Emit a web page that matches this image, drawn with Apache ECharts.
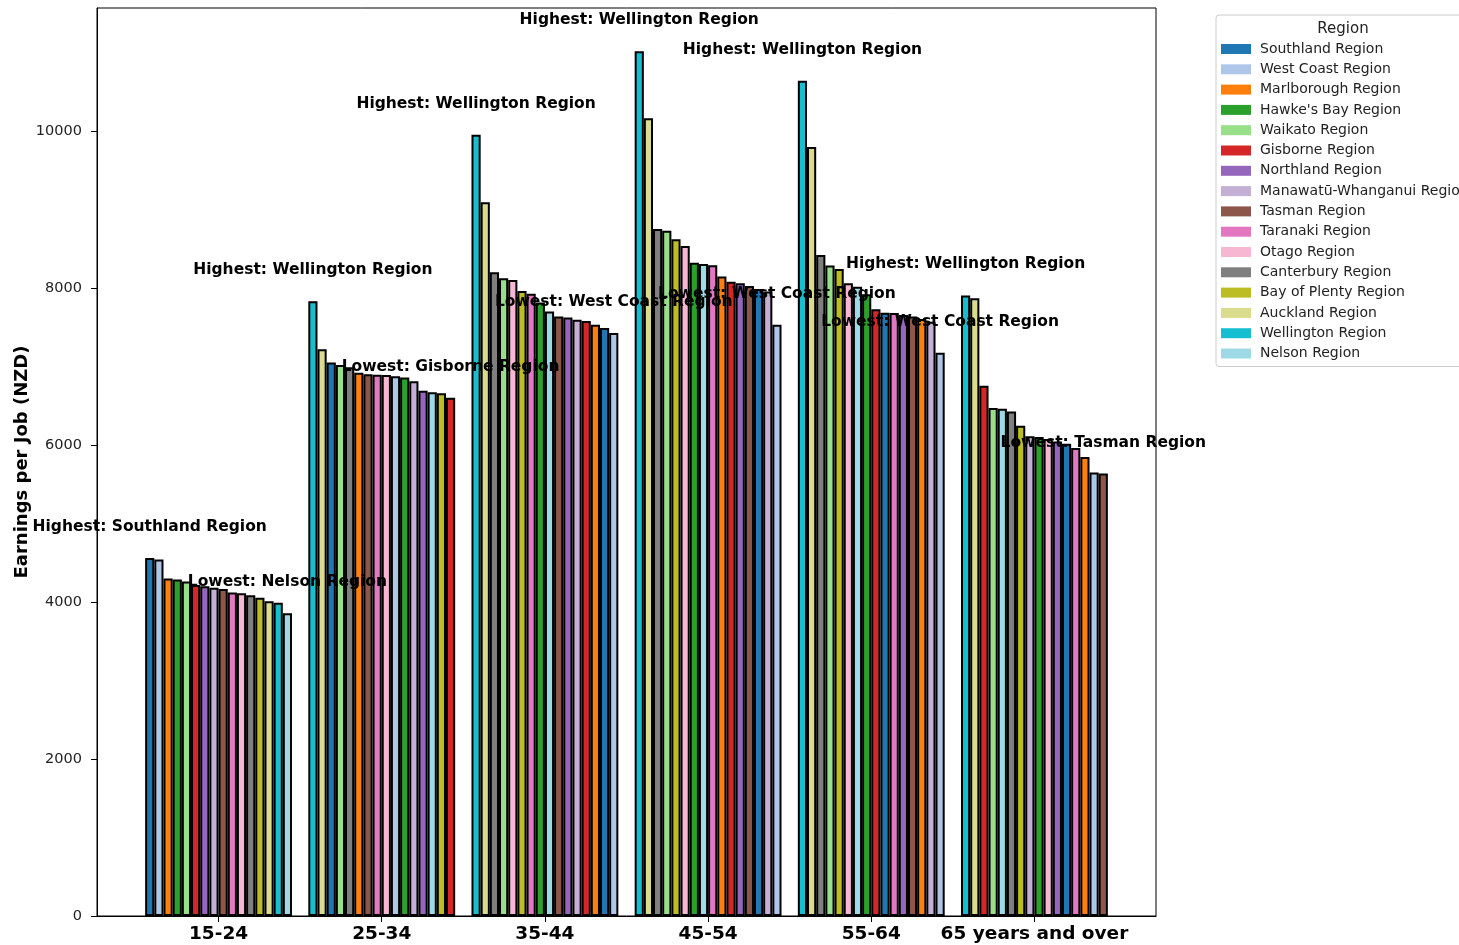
<!DOCTYPE html>
<html>
<head>
<meta charset="utf-8">
<title>Earnings per Job by Region and Age Group</title>
<script src="https://cdn.jsdelivr.net/npm/echarts@6/dist/echarts.min.js"></script>
<style>
    html, body { margin: 0; padding: 0; background: #fff; }
    #chart { width: 1459px; height: 945px; }
</style>
</head>
<body>
<div id="chart"></div>
<script>
    // age groups on the x axis
    const ageGroups = ['15-24', '25-34', '35-44', '45-54', '55-64', '65 years and over'];

    // regions, in legend order
    const regions = ['Southland Region', 'West Coast Region', 'Marlborough Region', "Hawke's Bay Region",
        'Waikato Region', 'Gisborne Region', 'Northland Region', 'Manawatū-Whanganui Region',
        'Tasman Region', 'Taranaki Region', 'Otago Region', 'Canterbury Region',
        'Bay of Plenty Region', 'Auckland Region', 'Wellington Region', 'Nelson Region'];
    const regionColors = ['#1f77b4', '#aec7e8', '#ff7f0e', '#2ca02c', '#98df8a', '#d62728', '#9467bd', '#c5b0d5',
        '#8c564b', '#e377c2', '#f7b6d2', '#7f7f7f', '#bcbd22', '#dbdb8d', '#17becf', '#9edae5'];

    // earnings per job (NZD), one array per age group, values in region order
    const earnings15to24 = [4560, 4540, 4300, 4285, 4260, 4215, 4200, 4180, 4165, 4120, 4110, 4085, 4055, 4010, 3990, 3855];
    const earnings25to34 = [7050, 6875, 6920, 6860, 7020, 6600, 6690, 6810, 6900, 6895, 6890, 6990, 6660, 7220, 7830, 6670];
    const earnings35to44 = [7490, 7425, 7530, 7815, 8125, 7580, 7625, 7595, 7635, 7925, 8100, 8200, 7960, 9090, 9950, 7700];
    const earnings45to54 = [7985, 7530, 8145, 8320, 8730, 8080, 8060, 7955, 8025, 8290, 8535, 8750, 8620, 10160, 11015, 8305];
    const earnings55to64 = [7685, 7175, 7605, 7920, 8285, 7730, 7655, 7570, 7635, 7680, 8060, 8420, 8240, 9795, 10640, 8015];
    const earnings65plus = [6015, 5650, 5845, 6100, 6470, 6755, 6045, 6110, 5635, 5960, 6075, 6425, 6245, 7870, 7905, 6460];
    const groupValues = [earnings15to24, earnings25to34, earnings35to44, earnings45to54, earnings55to64, earnings65plus];

    // y axis tick labels
    const yTicks = [0, 2000, 4000, 6000, 8000, 10000];

    const groupWidth = 0.9;
    const barW = groupWidth / regions.length;

    // bars are sorted high -> low inside each group
    const series = regions.map((name, r) => ({
        name: name,
        type: 'bar',
        barWidth: '100%',
        barGap: '-100%',
        itemStyle: { color: regionColors[r], borderColor: '#000', borderWidth: 2 },
        data: []
    }));
    groupValues.forEach((vals, g) => {
        const order = vals.map((v, i) => i).sort((a, b) => vals[b] - vals[a]);
        order.forEach((r, rank) => {
            const item = { value: [g - groupWidth / 2 + barW * (rank + 0.5), vals[r]] };
            // label the highest and the lowest bar of the group
            if (rank === 0 || rank === order.length - 1) {
                item.label = {
                    show: true,
                    position: 'top',
                    distance: 23,
                    formatter: (rank === 0 ? 'Highest: ' : 'Lowest: ') + regions[r],
                    fontFamily: 'DejaVu Sans',
                    fontWeight: 'bold',
                    fontSize: 15.5,
                    color: '#000',
                    textBorderWidth: 0
                };
            }
            series[r].data.push(item);
        });
    });

    const maxVal = Math.max(...groupValues.map(v => Math.max(...v)));
    const xSpan = (ageGroups.length - 1) + groupWidth;

    const myChart = echarts.init(document.getElementById('chart'));
    myChart.setOption({
        animation: false,
        textStyle: { fontFamily: 'DejaVu Sans' },
        grid: {
            left: 97, right: 303, top: 8, bottom: 29,
            show: true, borderColor: '#000', borderWidth: 1
        },
        graphic: [{
            type: 'text',
            x: 1343, y: 29,
            style: { text: 'Region', font: '15px DejaVu Sans', fill: '#222', textAlign: 'center', textVerticalAlign: 'middle' }
        }],
        legend: {
            orient: 'vertical',
            left: 1216, top: 15,
            padding: [27, 8, 6, 5],
            itemWidth: 30, itemHeight: 10,
            itemGap: 6.3,
            icon: 'rect',
            itemStyle: { borderWidth: 0 },
            borderColor: '#ccc', borderWidth: 1, borderRadius: 3,
            textStyle: { fontSize: 14, color: '#222', fontFamily: 'DejaVu Sans', padding: [0, 0, 0, 4] },
            data: regions
        },
        xAxis: {
            type: 'value',
            min: -groupWidth / 2 - xSpan * 0.05,
            max: ageGroups.length - 1 + groupWidth / 2 + xSpan * 0.05,
            splitLine: { show: false },
            axisLine: { onZero: false, lineStyle: { color: '#000' } },
            axisTick: { customValues: ageGroups.map((a, i) => i), length: 6, lineStyle: { color: '#000' } },
            axisLabel: {
                customValues: ageGroups.map((a, i) => i),
                formatter: v => ageGroups[Math.round(v)],
                fontSize: 18.5, fontWeight: 'bold', color: '#000', margin: 9
            }
        },
        yAxis: {
            type: 'value',
            min: 0,
            max: maxVal * 1.05,
            name: 'Earnings per Job (NZD)',
            nameLocation: 'middle',
            nameGap: 66,
            nameMoveOverlap: false,
            nameTextStyle: { fontSize: 18, fontWeight: 'bold', color: '#000' },
            splitLine: { show: false },
            axisLine: { show: true, onZero: false, lineStyle: { color: '#000' } },
            axisTick: { show: true, customValues: yTicks, length: 6, lineStyle: { color: '#000' } },
            axisLabel: { customValues: yTicks, formatter: v => String(v), fontSize: 14.5, color: '#222', margin: 15 }
        },
        series: series
    });
</script>
</body>
</html>
